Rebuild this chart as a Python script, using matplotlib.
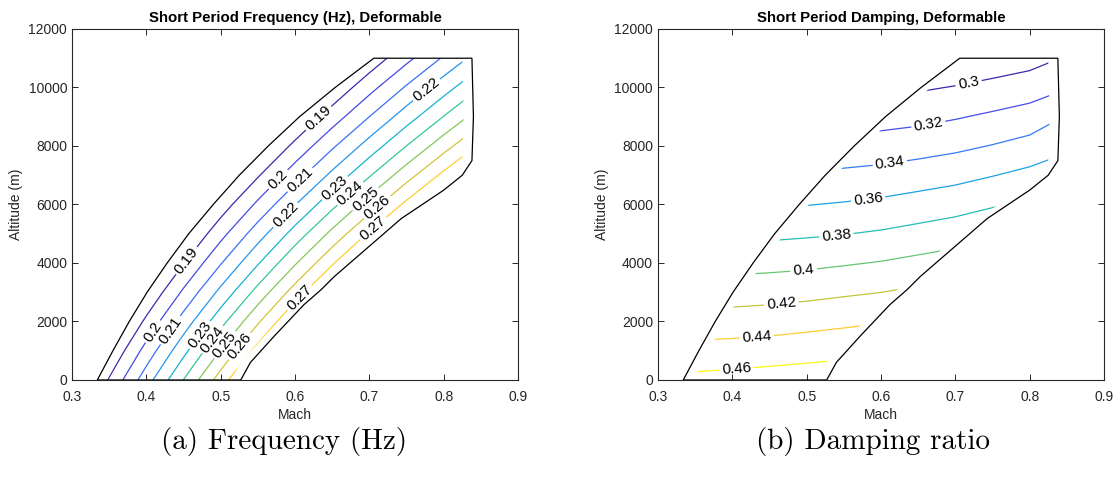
import matplotlib
matplotlib.use('Agg')
import matplotlib.pyplot as plt
import numpy as np
from matplotlib.colors import LinearSegmentedColormap
from matplotlib.patches import Polygon

# Sweep grid (Mach x altitude) of the short period results
mach = [0.30, 0.35, 0.40, 0.45, 0.50, 0.55, 0.60, 0.65, 0.70, 0.75, 0.80, 0.85]
altitude = [0, 1000, 2000, 3000, 4000, 5000, 6000, 7000, 8000, 9000, 10000, 11000]

# rows = altitude, columns = Mach
freq_hz = [
    [0.1664, 0.1910, 0.2156, 0.2402, 0.2649, 0.2895, 0.3141, 0.3388, 0.3634, 0.3880, 0.4126, 0.4373],
    [0.1570, 0.1804, 0.2038, 0.2271, 0.2505, 0.2739, 0.2972, 0.3206, 0.3440, 0.3674, 0.3907, 0.4141],
    [0.1479, 0.1700, 0.1922, 0.2143, 0.2365, 0.2586, 0.2807, 0.3029, 0.3250, 0.3472, 0.3693, 0.3915],
    [0.1389, 0.1598, 0.1808, 0.2017, 0.2227, 0.2436, 0.2646, 0.2855, 0.3065, 0.3274, 0.3484, 0.3693],
    [0.1301, 0.1499, 0.1697, 0.1895, 0.2093, 0.2291, 0.2489, 0.2687, 0.2885, 0.3083, 0.3281, 0.3479],
    [0.1220, 0.1407, 0.1594, 0.1780, 0.1967, 0.2154, 0.2341, 0.2527, 0.2714, 0.2901, 0.3088, 0.3274],
    [0.1141, 0.1317, 0.1493, 0.1669, 0.1845, 0.2020, 0.2196, 0.2372, 0.2548, 0.2724, 0.2900, 0.3076],
    [0.1054, 0.1222, 0.1389, 0.1556, 0.1723, 0.1890, 0.2057, 0.2224, 0.2391, 0.2558, 0.2725, 0.2892],
    [0.0974, 0.1133, 0.1291, 0.1450, 0.1608, 0.1767, 0.1925, 0.2084, 0.2242, 0.2401, 0.2559, 0.2718],
    [0.0890, 0.1041, 0.1193, 0.1344, 0.1495, 0.1647, 0.1798, 0.1949, 0.2100, 0.2252, 0.2403, 0.2554],
    [0.0805, 0.0950, 0.1095, 0.1240, 0.1385, 0.1530, 0.1675, 0.1820, 0.1966, 0.2111, 0.2256, 0.2401],
    [0.0722, 0.0861, 0.1000, 0.1139, 0.1278, 0.1417, 0.1556, 0.1695, 0.1834, 0.1973, 0.2112, 0.2251],
]

damping = [
    [0.4638, 0.4652, 0.4668, 0.4691, 0.4709, 0.4727, 0.4745, 0.4763, 0.4783, 0.4803, 0.4824, 0.4846],
    [0.4459, 0.4469, 0.4479, 0.4496, 0.4519, 0.4543, 0.4566, 0.4590, 0.4614, 0.4638, 0.4663, 0.4688],
    [0.4266, 0.4278, 0.4290, 0.4305, 0.4331, 0.4359, 0.4387, 0.4416, 0.4444, 0.4473, 0.4502, 0.4531],
    [0.4082, 0.4095, 0.4107, 0.4121, 0.4142, 0.4171, 0.4199, 0.4238, 0.4274, 0.4308, 0.4342, 0.4374],
    [0.3900, 0.3914, 0.3927, 0.3939, 0.3955, 0.3982, 0.4011, 0.4052, 0.4093, 0.4137, 0.4182, 0.4223],
    [0.3712, 0.3728, 0.3744, 0.3757, 0.3774, 0.3794, 0.3823, 0.3864, 0.3907, 0.3955, 0.3998, 0.4045],
    [0.3530, 0.3548, 0.3564, 0.3578, 0.3594, 0.3615, 0.3642, 0.3681, 0.3722, 0.3781, 0.3833, 0.3880],
    [0.3355, 0.3373, 0.3391, 0.3408, 0.3422, 0.3441, 0.3464, 0.3500, 0.3538, 0.3593, 0.3653, 0.3720],
    [0.3171, 0.3196, 0.3217, 0.3238, 0.3255, 0.3271, 0.3289, 0.3319, 0.3357, 0.3408, 0.3469, 0.3562],
    [0.2981, 0.3015, 0.3029, 0.3053, 0.3075, 0.3098, 0.3118, 0.3143, 0.3184, 0.3232, 0.3284, 0.3412],
    [0.2790, 0.2815, 0.2838, 0.2864, 0.2888, 0.2923, 0.2952, 0.2975, 0.3010, 0.3055, 0.3103, 0.3188],
    [0.2600, 0.2625, 0.2648, 0.2675, 0.2701, 0.2747, 0.2785, 0.2806, 0.2837, 0.2878, 0.2924, 0.3017],
]

freq_levels = [0.19, 0.20, 0.21, 0.22, 0.23, 0.24, 0.25, 0.26, 0.27, 0.28]
damp_levels = [0.30, 0.32, 0.34, 0.36, 0.38, 0.40, 0.42, 0.44, 0.46]

# Flight envelope boundary (Mach, altitude in m): left edge up, then right edge down
env_mach = [0.334, 0.355, 0.377, 0.401, 0.428, 0.457, 0.490, 0.525, 0.564, 0.606, 0.654, 0.706,
            0.838, 0.840, 0.838, 0.825, 0.800, 0.743, 0.653, 0.635, 0.612, 0.572, 0.540, 0.527]
env_alt = [0, 1000, 2000, 3000, 4000, 5000, 6000, 7000, 8000, 9000, 10000, 11000,
           11000, 9000, 7500, 7000, 6490, 5520, 3540, 3085, 2575, 1500, 600, 0]

titles = ['Short Period Frequency (Hz), Deformable', 'Short Period Damping, Deformable']
captions = ['(a) Frequency (Hz)', '(b) Damping ratio']

# where the contour labels sit (Mach, altitude)
freq_label_pos = [(0.634, 8889), (0.456, 4045), (0.578, 6838), (0.409, 1652),
                  (0.607, 6838), (0.432, 1709), (0.775, 9983), (0.587, 5641),
                  (0.652, 6609), (0.472, 1538), (0.672, 6438), (0.490, 1368),
                  (0.692, 6267), (0.506, 1197), (0.710, 5925), (0.526, 1140),
                  (0.705, 5185), (0.607, 2792)]
damp_label_pos = [(0.718, 10137), (0.664, 8708), (0.612, 7395), (0.583, 6160),
                  (0.540, 4937), (0.496, 3737), (0.466, 2595), (0.433, 1450),
                  (0.406, 367)]

# the computed points stop a little short of the envelope edge
grid_inset = 0.013

# approximation of MATLAB parula
parula = LinearSegmentedColormap.from_list('parula', [
    (0.2422, 0.1504, 0.6603), (0.2810, 0.3228, 0.9579), (0.1786, 0.5289, 0.9682),
    (0.0689, 0.6948, 0.8394), (0.2161, 0.7843, 0.5923), (0.6720, 0.7793, 0.2227),
    (0.9970, 0.7659, 0.2199), (0.9769, 0.9839, 0.0805)])

plt.rcParams['font.family'] = ['Liberation Sans', 'DejaVu Sans']
axis_color = '#262626'

fig = plt.figure(figsize=(11.15, 4.91), dpi=100, facecolor='white')
ax_left = fig.add_axes([0.0646, 0.2261, 0.4, 0.7149])
ax_right = fig.add_axes([0.5901, 0.2261, 0.4, 0.7149])

panels = [(ax_left, freq_hz, freq_levels, freq_label_pos),
          (ax_right, damping, damp_levels, damp_label_pos)]

n_left = 12
shift = np.where(np.arange(len(env_mach)) < n_left, grid_inset, -grid_inset)
data_region = np.column_stack([np.array(env_mach) + shift, env_alt])

for i, (ax, field, levels, label_pos) in enumerate(panels):
    colors = [parula(k / (len(levels) - 1)) for k in range(len(levels))]
    cs = ax.contour(mach, altitude, np.array(field), levels=levels,
                    colors=colors, linewidths=0.9)
    ax.clabel(cs, inline=True, inline_spacing=4, fmt='%g', fontsize=11,
              colors='black', manual=label_pos)

    region = Polygon(data_region, closed=True, facecolor='none',
                     edgecolor='none', transform=ax.transData)
    cs.set_clip_path(region)

    envelope = Polygon(np.column_stack([env_mach, env_alt]), closed=True,
                       facecolor='none', edgecolor='black', linewidth=0.9,
                       zorder=3)
    ax.add_patch(envelope)

    ax.set_xlim(0.3, 0.9)
    ax.set_ylim(0, 12000)
    ax.set_xticks(np.arange(0.3, 0.91, 0.1))
    ax.set_yticks(np.arange(0, 12001, 2000))
    ax.tick_params(direction='in', top=True, right=True, length=4, width=0.7,
                   colors=axis_color, labelsize=10, labelcolor=axis_color)
    ax.tick_params(axis='x', pad=7)
    for spine in ax.spines.values():
        spine.set_color(axis_color)
        spine.set_linewidth(0.8)

    ax.set_xlabel('Mach', fontsize=10, color=axis_color, labelpad=3)
    ax.set_ylabel('Altitude (m)', fontsize=10, color=axis_color, labelpad=4)
    ax.set_title(titles[i], fontsize=10.8, fontweight='bold', pad=5)

fig.text(0.2547, 0.10, captions[0], family=['cmr10', 'DejaVu Serif'],
         fontsize=21, ha='center', va='center')
fig.text(0.7834, 0.10, captions[1], family=['cmr10', 'DejaVu Serif'],
         fontsize=21, ha='center', va='center')

fig.savefig('out.png', dpi=100, facecolor='white')
